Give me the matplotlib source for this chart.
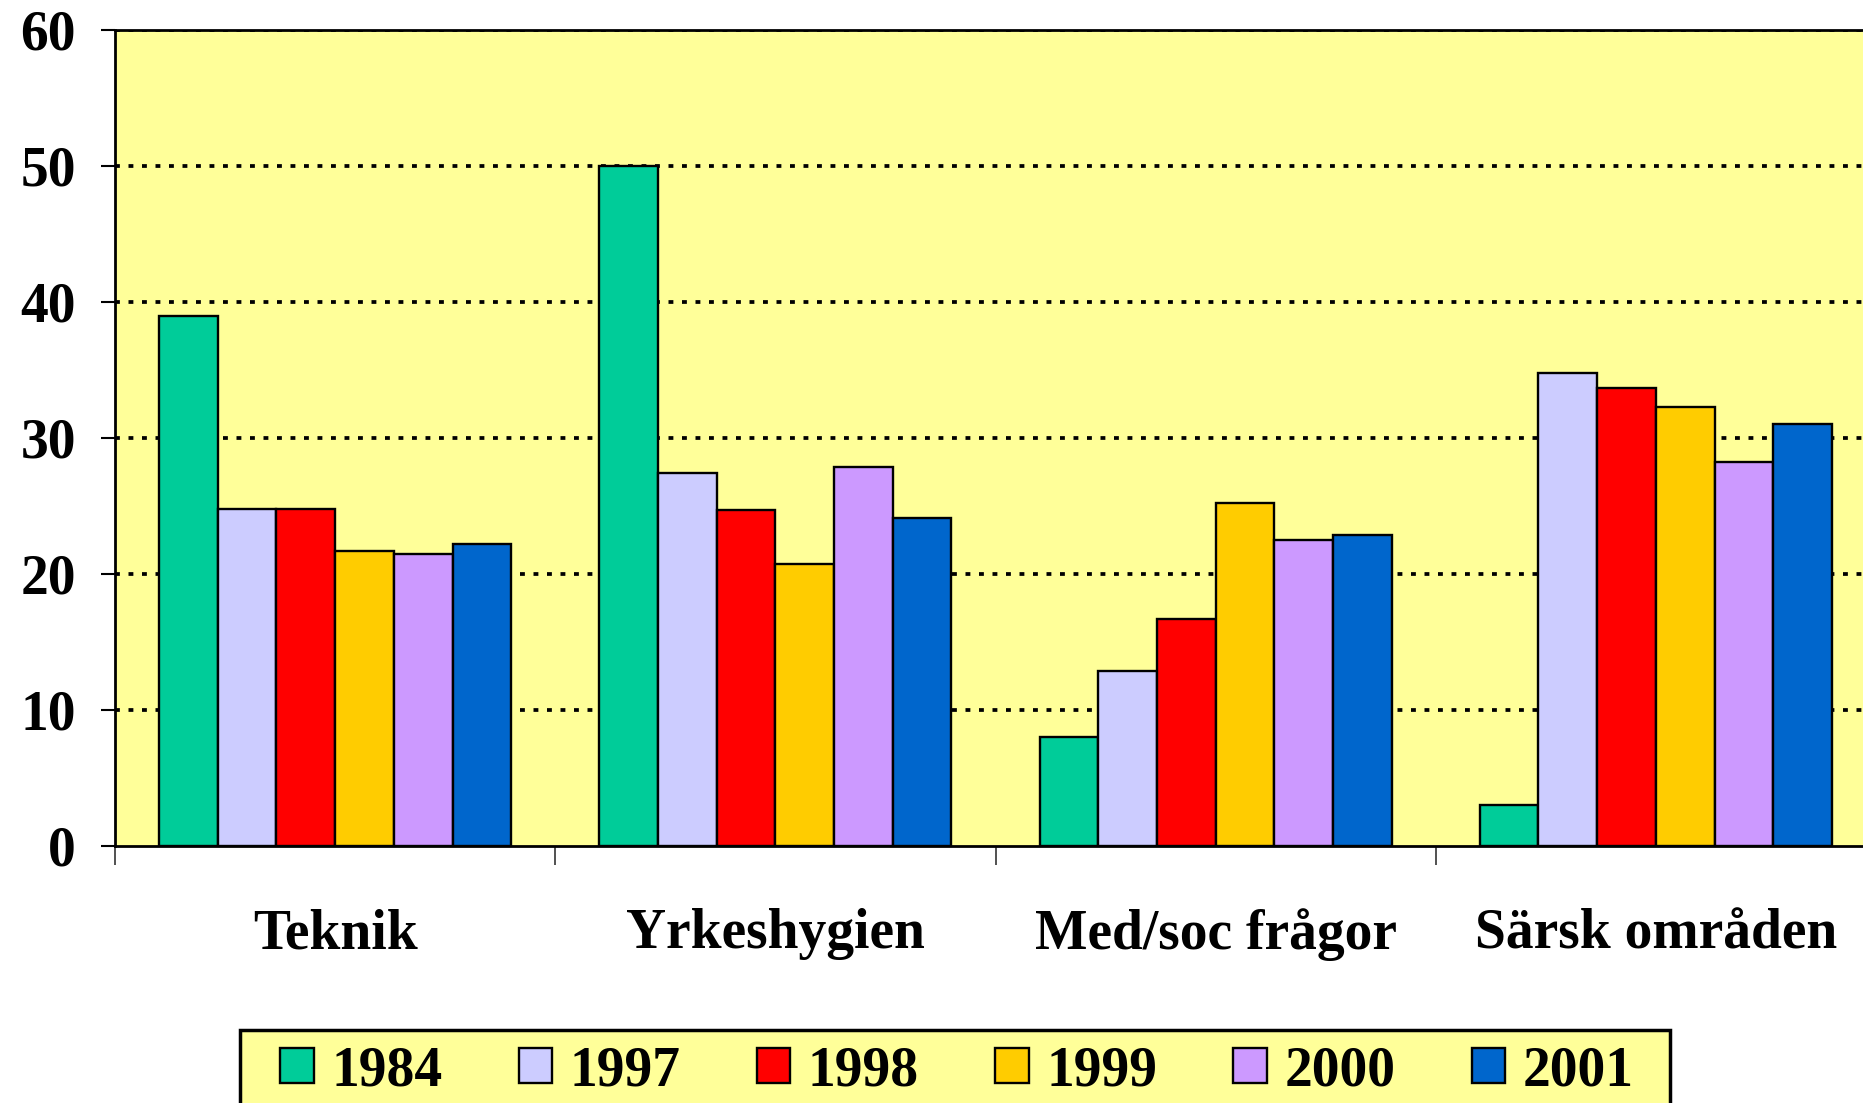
import matplotlib
matplotlib.use("Agg")
import matplotlib.pyplot as plt
from matplotlib.patches import Rectangle
import numpy as np

categories = ["Teknik", "Yrkeshygien", "Med/soc frågor", "Särsk områden"]
years = ["1984", "1997", "1998", "1999", "2000", "2001"]
v1984 = [39.0, 50.0, 8.0, 3.0]
v1997 = [24.8, 27.4, 12.9, 34.8]
v1998 = [24.8, 24.7, 16.7, 33.7]
v1999 = [21.7, 20.7, 25.2, 32.3]
v2000 = [21.5, 27.9, 22.5, 28.2]
v2001 = [22.2, 24.1, 22.9, 31.0]
series = [v1984, v1997, v1998, v1999, v2000, v2001]
colors = ["#00CC99", "#CCCCFF", "#FF0000", "#FFCC00", "#CC99FF", "#0066CC"]
yticks = [0, 10, 20, 30, 40, 50, 60]

W, H = 1863, 1103
fig = plt.figure(figsize=(W / 100, H / 100), dpi=100)
fs = 40
font = {"family": "Liberation Serif", "weight": "bold", "size": fs}

ax = fig.add_axes([115 / W, 1 - 846 / H, (1876 - 115) / W, (846 - 30) / H])
ax.set_facecolor("#FFFF99")

x = np.arange(len(categories))
w = 0.8 / len(series)
handles = []
for j, (vals, c) in enumerate(zip(series, colors)):
    b = ax.bar(x + (j - 2.5) * w, vals, width=w, color=c, edgecolor="black",
               linewidth=1.7, zorder=3, label=years[j])
    handles.append(b)

ax.set_xlim(-0.5, 3.5)
ax.set_ylim(0, 60)
ax.set_yticks(yticks)
ax.set_yticklabels([str(t) for t in yticks], fontdict=font)
ax.yaxis.grid(True, color="black", linewidth=2.7, linestyle=(0, (1.3, 2.3)), zorder=1)
ax.set_axisbelow(True)
ax.tick_params(axis="y", length=10, width=1.5, pad=18, direction="out")
ax.yaxis.get_major_ticks()[0].gridline.set_visible(False)

ax.set_xticks(x)
ax.set_xticklabels(categories, fontdict=font)
ax.tick_params(axis="x", which="major", length=0, pad=45)
ax.set_xticks(np.arange(-0.5, 4.0, 1.0), minor=True)
ax.tick_params(axis="x", which="minor", length=13.5, width=1.2, color="#333333", direction="out")

for s in ["left", "bottom", "top"]:
    ax.spines[s].set_linewidth(2)
    ax.spines[s].set_color("black")
ax.spines["bottom"].set_zorder(4)
ax.spines["right"].set_visible(False)

# legend box
fig.add_artist(Rectangle((240 / W, -0.05), (1670 - 240) / W, 0.05 + 1 - 1030 / H,
                         transform=fig.transFigure, facecolor="#FFFF99",
                         edgecolor="black", linewidth=2.5, zorder=1))
leg = fig.legend(handles, years, loc="center", bbox_to_anchor=(957 / W, 1 - 1071 / H),
                 ncol=6, frameon=False, handlelength=0.6, handleheight=0.6,
                 handletextpad=0.32, columnspacing=1.37, borderaxespad=0,
                 prop={"family": "Liberation Serif", "weight": "bold", "size": fs})
leg.set_zorder(2)

fig.savefig("out.png", dpi=100)
